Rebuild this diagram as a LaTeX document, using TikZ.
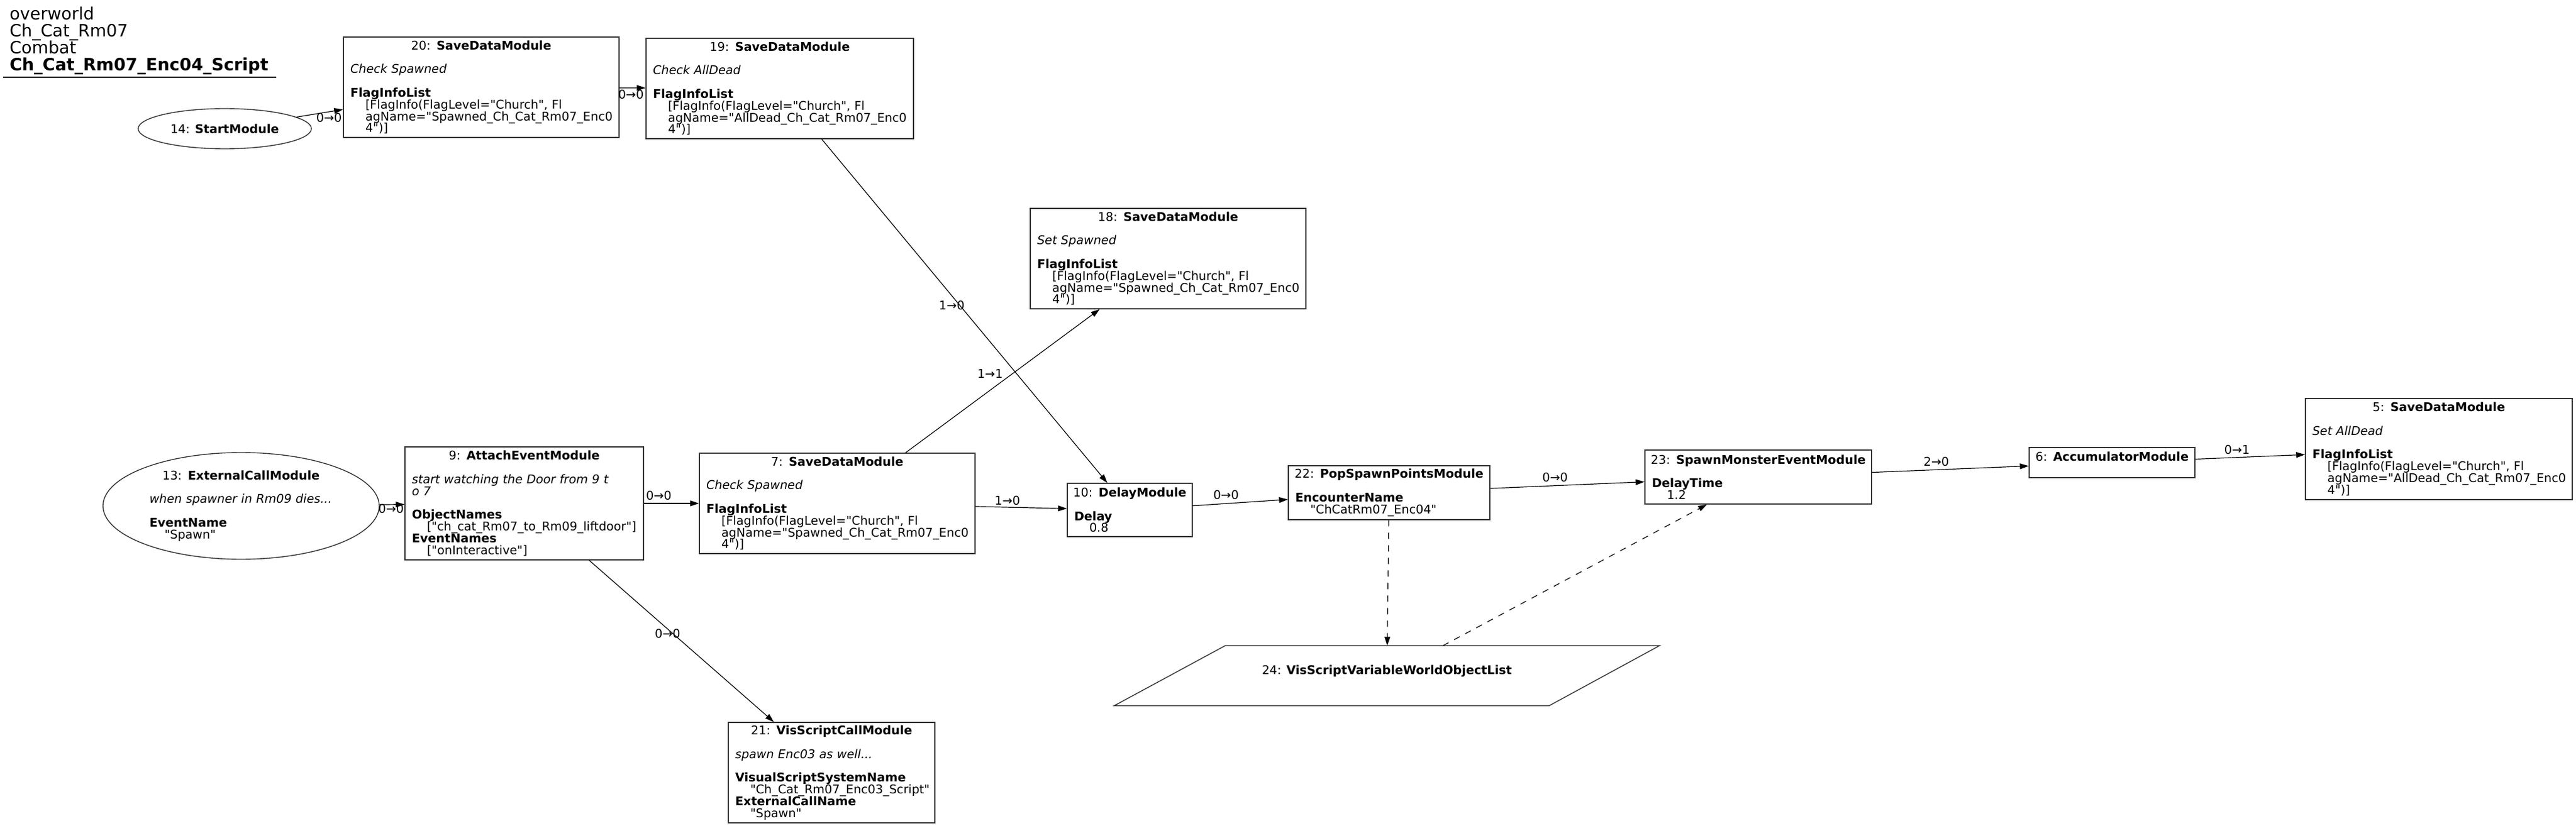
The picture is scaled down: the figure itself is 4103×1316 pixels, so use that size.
\documentclass[tikz,border=0pt]{standalone}
\usepackage{fontspec}
\setmainfont{DejaVu Sans}[Ligatures=TeXOff, ItalicFont={DejaVu Sans Oblique}, BoldItalicFont={DejaVu Sans Bold Oblique}]
\usetikzlibrary{positioning, arrows.meta, shapes.geometric, calc}

\newcommand\modfont{\fontsize{9.6}{9.4}\selectfont\lineskiplimit=-5pt}
\newcommand\mhead[2]{\noindent\makebox[\hsize]{#1: \textbf{#2}}}
\newcommand\mval[1]{\mbox{\hspace{12pt}#1}}
\newcommand\mnote[1]{\mbox{\textit{#1}}}
\newcommand\gap{\\[\baselineskip]}

\begin{document}
\begin{tikzpicture}[x=0.5pt, y=-0.5pt, >={Triangle[length=7pt, width=4.5pt]},
    mod/.style={draw=black!80, line width=0.7pt, align=left, inner xsep=5.5pt, inner ysep=0pt, font=\modfont},
    call/.style={draw=black!80, line width=0.7pt, ellipse, inner sep=0pt, font=\modfont},
    wire/.style={line width=0.6pt},
    dep/.style={line width=0.6pt, dash pattern=on 5pt off 5pt},
    lbl/.style={font=\modfont, inner sep=1pt}]
  \useasboundingbox (0,0) rectangle (4103,1316);

  % title
  \node[anchor=north west, align=left, inner sep=0pt, font=\fontsize{13.5}{13.5}\selectfont] (title) at (15,11)
    {overworld\\Ch\_Cat\_Rm07\\Combat\\\textbf{Ch\_Cat\_Rm07\_Enc04\_Script}};
  \draw[line width=0.7pt] (5,123) -- (440,123);

  % modules
  \node[call, minimum width=138pt, minimum height=32pt] (n14) at (358,205) {14: \textbf{StartModule}};
  \node[mod, text width=208.5pt, minimum height=80pt] (n20) at (766.5,139)
    {\mhead{20}{SaveDataModule}\gap\mnote{Check Spawned}\gap\textbf{FlagInfoList}\\\mval{[FlagInfo(FlagLevel="Church", Fl}\\\mval{agName="Spawned\_Ch\_Cat\_Rm07\_Enc0}\\\mval{4")]}};
  \node[mod, text width=202pt, minimum height=80pt] (n19) at (1242,141)
    {\mhead{19}{SaveDataModule}\gap\mnote{Check AllDead}\gap\textbf{FlagInfoList}\\\mval{[FlagInfo(FlagLevel="Church", Fl}\\\mval{agName="AllDead\_Ch\_Cat\_Rm07\_Enc0}\\\mval{4")]}};
  \node[mod, text width=208.5pt, minimum height=80pt] (n18) at (1860.5,412)
    {\mhead{18}{SaveDataModule}\gap\mnote{Set Spawned}\gap\textbf{FlagInfoList}\\\mval{[FlagInfo(FlagLevel="Church", Fl}\\\mval{agName="Spawned\_Ch\_Cat\_Rm07\_Enc0}\\\mval{4")]}};
  \node[call, minimum width=220pt, minimum height=85pt, text width=146pt, align=left] (n13) at (384,806)
    {\mhead{13}{ExternalCallModule}\gap\mnote{when spawner in Rm09 dies...}\gap\textbf{EventName}\\\mval{"Spawn"}};
  \node[mod, text width=179pt, minimum height=90pt] (n9) at (835,802)
    {\mhead{9}{AttachEventModule}\gap\mnote{start watching the Door from 9 t}\\\mnote{o 7}\gap\textbf{ObjectNames}\\\mval{["ch\_cat\_Rm07\_to\_Rm09\_liftdoor"]}\\\textbf{EventNames}\\\mval{["onInteractive"]}};
  \node[mod, text width=208.5pt, minimum height=80pt] (n7) at (1333.5,802)
    {\mhead{7}{SaveDataModule}\gap\mnote{Check Spawned}\gap\textbf{FlagInfoList}\\\mval{[FlagInfo(FlagLevel="Church", Fl}\\\mval{agName="Spawned\_Ch\_Cat\_Rm07\_Enc0}\\\mval{4")]}};
  \node[mod, text width=88.5pt, minimum height=42.5pt] (n10) at (1799.5,812.5)
    {\mhead{10}{DelayModule}\gap\textbf{Delay}\\\mval{0.8}};
  \node[mod, text width=149.5pt, minimum height=43pt] (n22) at (2212.5,785)
    {\mhead{22}{PopSpawnPointsModule}\gap\textbf{EncounterName}\\\mval{"ChCatRm07\_Enc04"}};
  \node[mod, text width=169.5pt, minimum height=43pt] (n23) at (2800.5,760)
    {\mhead{23}{SpawnMonsterEventModule}\gap\textbf{DelayTime}\\\mval{1.2}};
  \node[mod, text width=121pt, minimum height=24pt] (n6) at (3364,737)
    {\mhead{6}{AccumulatorModule}\\\mbox{}};
  \node[mod, text width=201.5pt, minimum height=80.5pt] (n5) at (3884.5,715.5)
    {\mhead{5}{SaveDataModule}\gap\mnote{Set AllDead}\gap\textbf{FlagInfoList}\\\mval{[FlagInfo(FlagLevel="Church", Fl}\\\mval{agName="AllDead\_Ch\_Cat\_Rm07\_Enc0}\\\mval{4")]}};
  \node[mod, text width=153.5pt, minimum height=80pt] (n21) at (1324.5,1231)
    {\mhead{21}{VisScriptCallModule}\gap\mnote{spawn Enc03 as well...}\gap\textbf{VisualScriptSystemName}\\\mval{"Ch\_Cat\_Rm07\_Enc03\_Script"}\\\textbf{ExternalCallName}\\\mval{"Spawn"}};

  % variable
  \node[minimum width=434pt, minimum height=47.5pt, inner sep=0pt, align=center, font=\modfont] (n24) at (2209,1076.5)
    {24: \textbf{VisScriptVariableWorldObjectList}\\\mbox{}};
  \draw[draw=black!80, line width=0.7pt] (n24.south west) -- ($(n24.north west)+(177,0)$)
    -- (n24.north east) -- ($(n24.south east)+(-176,0)$) -- cycle;

  \path[->, wire]
    (n14) edge node[lbl, pos=0.7, yshift=-4.5pt] {0→0} (n20)
    (n20) edge node[lbl, pos=0.44, yshift=-5.5pt] {0→0} (n19)
    (n19) edge node[lbl, pos=0.484, xshift=-6.5pt] {1→0} (n10)
    (n13) edge node[lbl, pos=0.46, yshift=-3.5pt] {0→0} (n9)
    (n9) edge node[lbl, pos=0.27, yshift=6pt] {0→0} (n7)
    (n9) edge node[lbl, pos=0.452, xshift=-4pt] {0→0} (n21)
    (n7) edge node[lbl, pos=0.552, xshift=-18pt] {1→1} (n18)
    (n7) edge node[lbl, pos=0.35, yshift=5.5pt] {1→0} (n10)
    (n10) edge node[lbl, pos=0.35, yshift=6.75pt] {0→0} (n22)
    (n22) edge node[lbl, pos=0.42, yshift=6.5pt] {0→0} (n23)
    (n23) edge node[lbl, pos=0.41, yshift=6.7pt] {2→0} (n6)
    (n6) edge node[lbl, pos=0.38, yshift=6pt] {0→1} (n5)
  ;
  \path[->, dep]
    (n22) edge (n24)
    (n24) edge (n23)
  ;
\end{tikzpicture}
\end{document}
